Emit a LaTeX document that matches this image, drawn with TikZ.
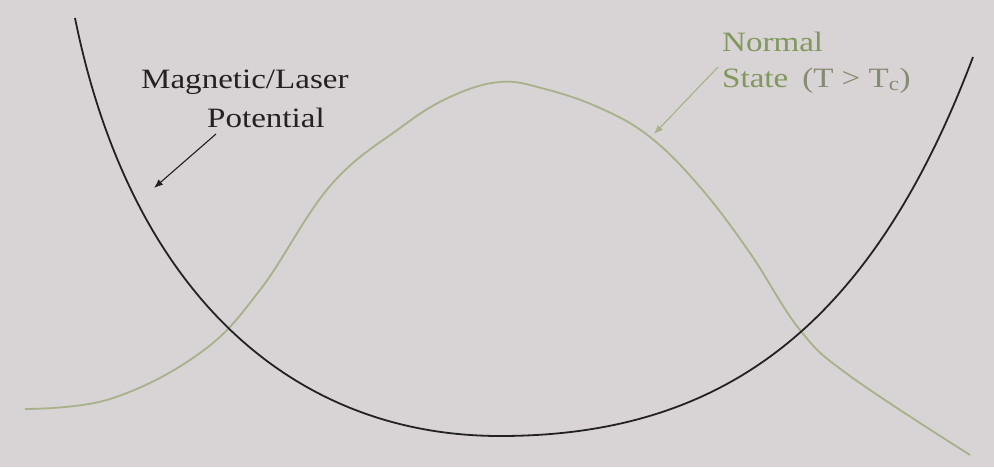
\documentclass[tikz,border=0pt]{standalone}
\usepackage{fontspec}
\setmainfont{Liberation Serif}
\newfontfamily\widefont[FakeStretch=1.18]{Liberation Serif}
\usetikzlibrary{arrows.meta}
\definecolor{bgc}{RGB}{216,211,212}
\definecolor{greenline}{RGB}{168,178,138}
\definecolor{greentext}{RGB}{128,152,92}
\definecolor{greytext}{RGB}{135,138,115}
\definecolor{inkc}{RGB}{35,33,35}
\tikzset{
  lbl/.style={anchor=base west, inner sep=0pt, font=\widefont\fontsize{28}{32}\selectfont},
  curveblack/.style={draw=inkc, line width=1.8pt, line join=round},
  curvegreen/.style={draw=greenline, line width=1.8pt, line join=round},
  pointer/.style={line width=1.1pt, -{Latex[length=9pt,width=7pt]}}
}
\begin{document}
\begin{tikzpicture}[x=1pt,y=1pt]
\useasboundingbox (0,0) rectangle (994,-467);
\fill[bgc] (0,0) rectangle (994,-467);
% green (normal state) density
\draw[curvegreen] plot[smooth, tension=0.65] coordinates {
 (25,-409) (110,-399) (200,-353) (260,-290) (330,-186) (400,-128) (450,-97)
 (500,-82) (545,-89) (600,-108) (650,-137) (700,-187) (750,-253) (800,-330)
 (850,-376) (970,-455)};
% black potential
\draw[curveblack] (75,-18) .. controls (130,-290) and (290,-436) .. (500,-436)
  .. controls (720,-436) and (870,-330) .. (973,-57);
% labels
\node[lbl, text=inkc] (mag) at (141,-88) {Magnetic/Laser};
\node[lbl, text=inkc] (pot) at (207,-127) {Potential};
\node[lbl, text=greentext] (norm) at (722,-51) {Normal};
\node[lbl, text=greentext] (state) at (722,-87) {State\hspace{14pt}\textcolor{greytext}{(T > T\textsubscript{c})}};
% pointers
\coordinate (pa) at (216,-134);
\coordinate (pb) at (154,-188);
\coordinate (ga) at (718,-67);
\coordinate (gb) at (654,-134);
\draw[pointer, draw=inkc, fill=inkc] (pa) -- (pb);
\draw[pointer, draw=greenline, fill=greentext] (ga) -- (gb);
\end{tikzpicture}
\end{document}
